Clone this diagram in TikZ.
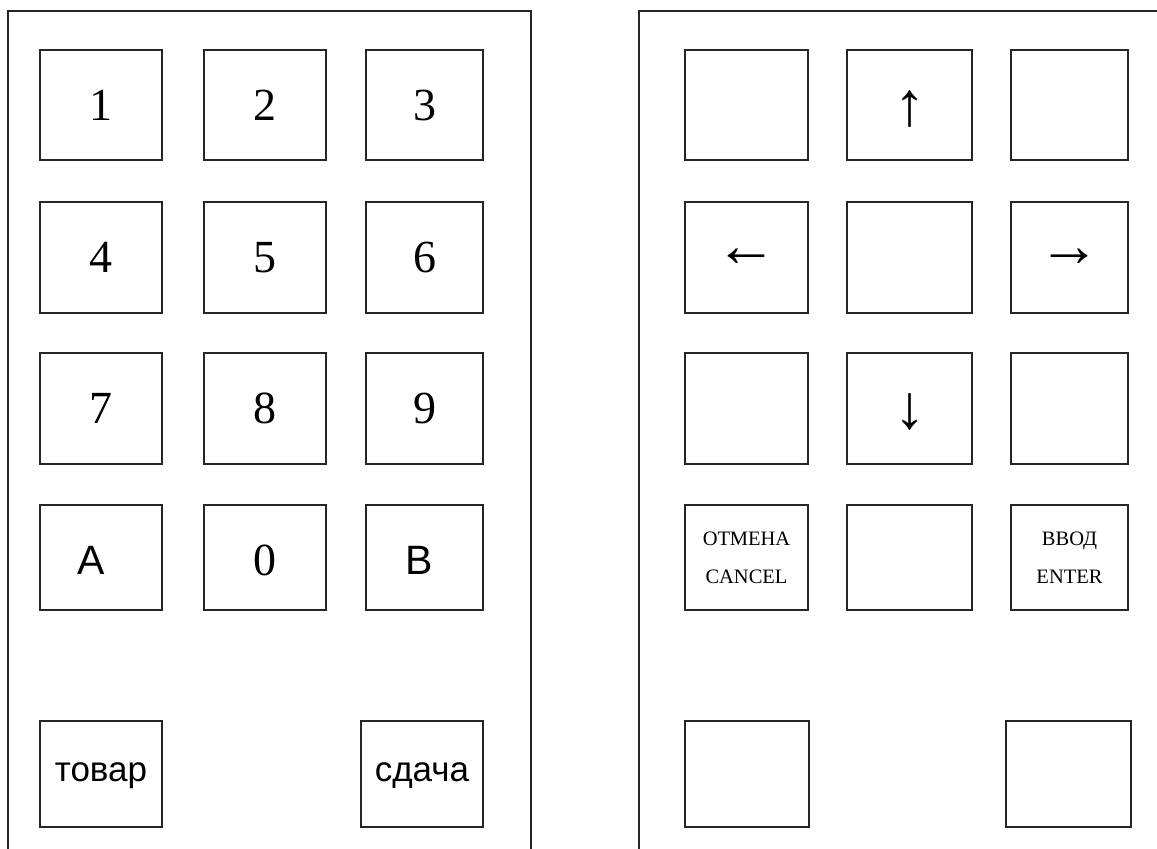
\documentclass[tikz,border=0pt]{standalone}
\usepackage{fontspec}
\setmainfont{Liberation Serif}
\newfontfamily\keysans{Liberation Sans}
\newcommand{\lowered}[2]{\raisebox{-#1}[\height][\depth]{#2}}
\begin{document}
\begin{tikzpicture}[x=1pt,y=-1pt,
  panel/.style={line width=1.3pt, draw=black!85},
  keybox/.style={draw=black!85, line width=1.3pt, inner sep=0pt, outer sep=0pt, anchor=center},
  digit/.style={font=\fontsize{46}{46}\selectfont},
  letter/.style={font=\keysans\fontsize{41}{41}\selectfont},
  word/.style={font=\keysans\fontsize{35}{35}\selectfont},
  arrowkey/.style={font=\fontsize{62}{62}\selectfont},
  small/.style={font=\fontsize{20.5}{38}\selectfont, align=center}]
\useasboundingbox (0,0) rectangle (1157,849);
\fill[white] (0,0) rectangle (1157,849);
% panels (bottom cut off by the picture edge)
\draw[panel] (8,849) -- (8,11) -- (531,11) -- (531,849);
\draw[panel] (639,849) -- (639,11) -- (1157,11);
% left panel keys
\node[keybox, digit, minimum width=122pt, minimum height=110pt] (k1) at (101,105) {1};
\node[keybox, digit, minimum width=122pt, minimum height=110pt] (k2) at (265,105) {2};
\node[keybox, digit, minimum width=117pt, minimum height=110pt] (k3) at (424.5,105) {3};
\node[keybox, digit, minimum width=122pt, minimum height=111pt] (k4) at (101,257.5) {4};
\node[keybox, digit, minimum width=122pt, minimum height=111pt] (k5) at (265,257.5) {5};
\node[keybox, digit, minimum width=117pt, minimum height=111pt] (k6) at (424.5,257.5) {6};
\node[keybox, digit, minimum width=122pt, minimum height=111pt] (k7) at (101,408.5) {7};
\node[keybox, digit, minimum width=122pt, minimum height=111pt] (k8) at (265,408.5) {8};
\node[keybox, digit, minimum width=117pt, minimum height=111pt] (k9) at (424.5,408.5) {9};
\node[keybox, letter, minimum width=122pt, minimum height=105pt] (kA) at (101,557.5) {\lowered{3pt}{A}\kern20pt};
\node[keybox, digit, minimum width=122pt, minimum height=105pt] (k0) at (265,557.5) {\lowered{3pt}{0}};
\node[keybox, letter, minimum width=117pt, minimum height=105pt] (kB) at (424.5,557.5) {\lowered{3pt}{B}\kern10pt};
\node[keybox, word, minimum width=122pt, minimum height=106pt] (ktovar) at (101,774) {\lowered{2pt}{товар}};
\node[keybox, word, minimum width=122pt, minimum height=106pt] (ksdacha) at (422,774) {\lowered{2pt}{сдача}};
% right panel keys
\node[keybox, minimum width=123pt, minimum height=110pt] (r11) at (746.5,105) {};
\node[keybox, arrowkey, minimum width=125pt, minimum height=110pt] (kup) at (909.5,105) {\lowered{4pt}{↑}};
\node[keybox, minimum width=117pt, minimum height=110pt] (r13) at (1069.5,105) {};
\node[keybox, arrowkey, minimum width=123pt, minimum height=111pt] (kleft) at (746.5,257.5) {←};
\node[keybox, minimum width=125pt, minimum height=111pt] (r22) at (909.5,257.5) {};
\node[keybox, arrowkey, minimum width=117pt, minimum height=111pt] (kright) at (1069.5,257.5) {→};
\node[keybox, minimum width=123pt, minimum height=111pt] (r31) at (746.5,408.5) {};
\node[keybox, arrowkey, minimum width=125pt, minimum height=111pt] (kdown) at (909.5,408.5) {\lowered{3pt}{↓}};
\node[keybox, minimum width=117pt, minimum height=111pt] (r33) at (1069.5,408.5) {};
\node[keybox, small, minimum width=123pt, minimum height=105pt] (kcancel) at (746.5,557.5) {ОТМЕНА\\CANCEL};
\node[keybox, minimum width=125pt, minimum height=105pt] (r42) at (909.5,557.5) {};
\node[keybox, small, minimum width=117pt, minimum height=105pt] (kenter) at (1069.5,557.5) {ВВОД\\ENTER};
\node[keybox, minimum width=124pt, minimum height=106pt] (r51) at (747,774) {};
\node[keybox, minimum width=125pt, minimum height=106pt] (r53) at (1068.5,774) {};
\end{tikzpicture}
\end{document}
